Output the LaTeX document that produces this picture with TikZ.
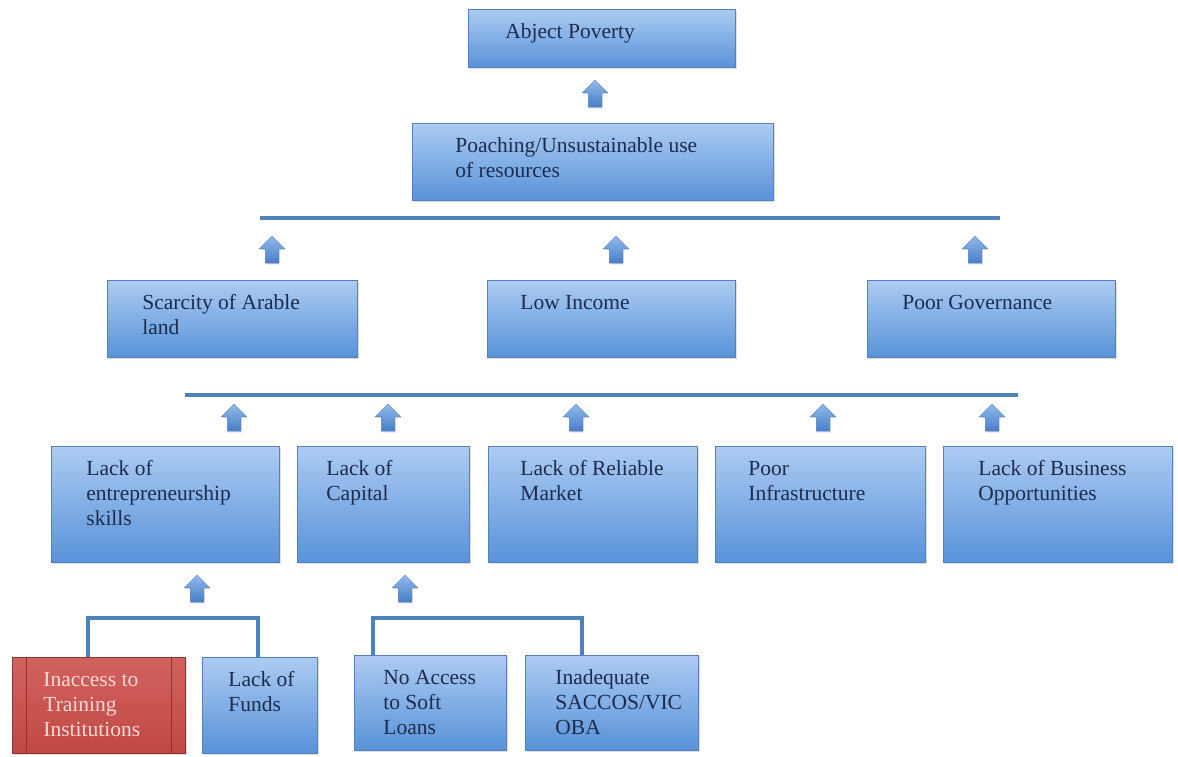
\documentclass[tikz,border=0pt]{standalone}
\usepackage{fontspec}
\setmainfont{Liberation Serif}
\usetikzlibrary{shapes.arrows,shadows}
\definecolor{boxtop}{RGB}{172,203,242}
\definecolor{boxbot}{RGB}{88,146,216}
\definecolor{boxline}{RGB}{84,128,190}
\definecolor{barblue}{RGB}{79,129,189}
\definecolor{inktext}{RGB}{28,44,78}
\definecolor{arrtop}{RGB}{146,186,234}
\definecolor{arrbot}{RGB}{70,126,200}
\definecolor{redtop}{RGB}{210,98,94}
\definecolor{redbot}{RGB}{192,72,68}
\definecolor{redline}{RGB}{140,52,50}
\definecolor{redtext}{RGB}{246,218,216}
% box text: width, height, left indent, lines
\newcommand{\cell}[4]{\parbox[t][#2][t]{#1}{\raggedright\leftskip=#3\relax\rule{0pt}{29pt}#4}}
\tikzset{
  cause/.style={draw=boxline, line width=0.8pt, top color=boxtop, bottom color=boxbot,
    inner sep=0pt, anchor=north west, text=inktext, font=\fontsize{21.5}{25}\selectfont,
    drop shadow={shadow xshift=1.5pt, shadow yshift=-2pt, opacity=0.25}},
  gap/.style={cause, draw=redline, top color=redtop, bottom color=redbot, text=redtext},
  uparrow/.style={single arrow, shape border rotate=90, draw=boxline, line width=0.5pt,
    top color=arrtop, bottom color=arrbot, inner sep=6.5pt, minimum height=27pt,
    minimum width=25pt, single arrow head extend=6pt,
    drop shadow={shadow xshift=1pt, shadow yshift=-1.5pt, opacity=0.2}},
  bar/.style={barblue, line width=3.5pt},
}
\begin{document}
\begin{tikzpicture}[x=1pt,y=-1pt]
\useasboundingbox[fill=white] (0,0) rectangle (1178,756);
% top
\node[cause] (poverty) at (468,9) {\cell{267pt}{58pt}{37pt}{Abject Poverty}};
\node[cause] (poaching) at (412,123) {\cell{361pt}{77pt}{43pt}{Poaching/Unsustainable use\\of resources}};
% second level
\node[cause] (arable) at (107,280) {\cell{250pt}{77pt}{35pt}{Scarcity of Arable\\land}};
\node[cause] (income) at (487,280) {\cell{248pt}{77pt}{33pt}{Low Income}};
\node[cause] (govern) at (867,280) {\cell{248pt}{77pt}{35pt}{Poor Governance}};
% third level
\node[cause] (skills) at (51,446) {\cell{228pt}{116pt}{35pt}{Lack of\\entrepreneurship\\skills}};
\node[cause] (capital) at (297,446) {\cell{172pt}{116pt}{29pt}{Lack of\\Capital}};
\node[cause] (market) at (488,446) {\cell{209pt}{116pt}{32pt}{Lack of Reliable\\Market}};
\node[cause] (infra) at (715,446) {\cell{210pt}{116pt}{33pt}{Poor\\Infrastructure}};
\node[cause] (business) at (943,446) {\cell{229pt}{116pt}{35pt}{Lack of Business\\Opportunities}};
% bottom
\node[gap] (training) at (12,657) {\cell{173pt}{96pt}{31pt}{Inaccess to\\Training\\Institutions}};
\node[cause] (funds) at (202,657) {\cell{115pt}{96pt}{26pt}{Lack of\\Funds}};
\node[cause] (loans) at (354,655) {\cell{152pt}{95pt}{29pt}{No Access\\to Soft\\Loans}};
\node[cause] (saccos) at (525,655) {\cell{173pt}{95pt}{30pt}{Inadequate\\SACCOS/VIC\\OBA}};
\draw[redline, line width=0.8pt] ([xshift=14pt]training.north west) -- ([xshift=14pt]training.south west);
\draw[redline, line width=0.8pt] ([xshift=-14pt]training.north east) -- ([xshift=-14pt]training.south east);
% arrows
\node[uparrow] (up0) at (595,97) {};
\node[uparrow] (up1) at (272,253) {};
\node[uparrow] (up2) at (616,253) {};
\node[uparrow] (up3) at (975,253) {};
\node[uparrow] (up4) at (234,421) {};
\node[uparrow] (up5) at (388,421) {};
\node[uparrow] (up6) at (576,421) {};
\node[uparrow] (up7) at (823,421) {};
\node[uparrow] (up8) at (992,421) {};
\node[uparrow] (up9) at (197,592) {};
\node[uparrow] (up10) at (405,592) {};
% bars
\coordinate (bar1w) at (260,218);
\coordinate (bar1e) at (1000,218);
\coordinate (bar2w) at (185,395);
\coordinate (bar2e) at (1018,395);
\coordinate (fork1) at (170,618);
\coordinate (fork2) at (480,618);
\draw[bar] (bar1w) -- (bar1e);
\draw[bar] (bar2w) -- (bar2e);
\draw[bar] ([xshift=76pt]training.north west) |- (fork1) -| ([xshift=56pt]funds.north west);
\draw[bar] ([xshift=19pt]loans.north west) |- (fork2) -| ([xshift=57pt]saccos.north west);
\end{tikzpicture}
\end{document}
